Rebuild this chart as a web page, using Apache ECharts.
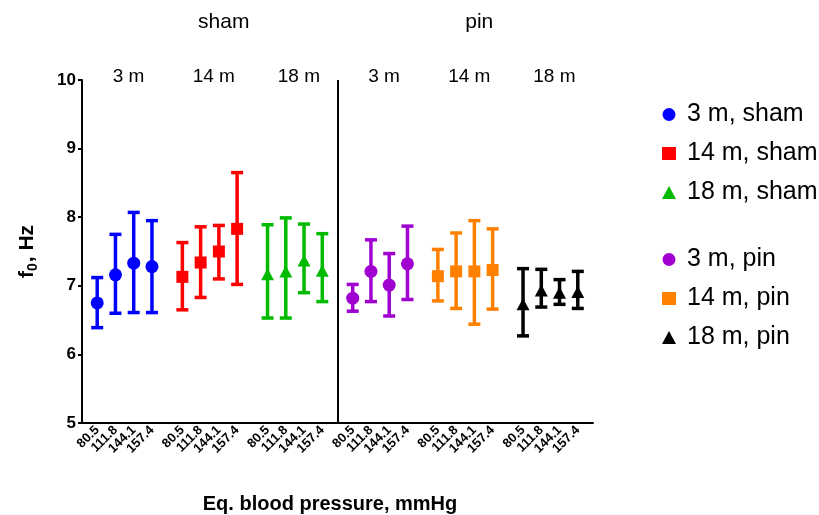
<!DOCTYPE html>
<html><head><meta charset="utf-8">
<script src="https://cdn.jsdelivr.net/npm/echarts@6/dist/echarts.min.js"></script>
<style>html,body{margin:0;padding:0;background:#fff}#c{width:819px;height:515px}</style>
</head><body><div id="c"></div>
<script>
// ---- data ----
const pressures = ['80.5', '111.8', '144.1', '157.4'];
const groupNames = ['3 m, sham', '14 m, sham', '18 m, sham', '3 m, pin', '14 m, pin', '18 m, pin'];
const groupAges = ['3 m', '14 m', '18 m', '3 m', '14 m', '18 m'];
const conditions = ['sham', 'pin'];

const mean_3m_sham  = [6.75, 7.16, 7.33, 7.28];
const low_3m_sham   = [6.39, 6.60, 6.61, 6.61];
const high_3m_sham  = [7.12, 7.75, 8.07, 7.95];

const mean_14m_sham = [7.13, 7.34, 7.50, 7.83];
const low_14m_sham  = [6.65, 6.83, 7.10, 7.02];
const high_14m_sham = [7.63, 7.86, 7.88, 8.65];

const mean_18m_sham = [7.17, 7.21, 7.37, 7.22];
const low_18m_sham  = [6.53, 6.53, 6.90, 6.77];
const high_18m_sham = [7.89, 7.99, 7.90, 7.76];

const mean_3m_pin   = [6.82, 7.21, 7.01, 7.32];
const low_3m_pin    = [6.63, 6.77, 6.56, 6.80];
const high_3m_pin   = [7.02, 7.67, 7.47, 7.87];

const mean_14m_pin  = [7.14, 7.21, 7.21, 7.23];
const low_14m_pin   = [6.78, 6.67, 6.44, 6.66];
const high_14m_pin  = [7.53, 7.77, 7.95, 7.83];

const mean_18m_pin  = [6.73, 6.93, 6.90, 6.91];
const low_18m_pin   = [6.27, 6.69, 6.73, 6.67];
const high_18m_pin  = [7.25, 7.24, 7.09, 7.21];

const yTicks = [5, 6, 7, 8, 9, 10];

// ---- layout / style ----
const means = [mean_3m_sham, mean_14m_sham, mean_18m_sham, mean_3m_pin, mean_14m_pin, mean_18m_pin];
const lows  = [low_3m_sham, low_14m_sham, low_18m_sham, low_3m_pin, low_14m_pin, low_18m_pin];
const highs = [high_3m_sham, high_14m_sham, high_18m_sham, high_3m_pin, high_14m_pin, high_18m_pin];
const colors = ['#0000FF', '#FF0000', '#00BB00', '#A000D0', '#FF8000', '#000000'];
const symbols = ['circle', 'rect', 'triangle', 'circle', 'rect', 'triangle'];
const symSizes = [13, 12, [13, 12], 13, 12, [13, 12]];

const NSLOT = 84, START = 2, GROUP_PITCH = 14, STEP = 3;
const slot = (g, i) => START + g * GROUP_PITCH + i * STEP;
const slotLabel = new Array(NSLOT).fill('');
for (let g = 0; g < groupNames.length; g++)
  for (let i = 0; i < pressures.length; i++) slotLabel[slot(g, i)] = pressures[i];
const cats = slotLabel.map((_, k) => String(k));
const isData = (idx) => slotLabel[idx] !== '';

const FONT = '"Liberation Sans", Arial, sans-serif';

function errRender(params, api) {
  const x = api.value(0), lo = api.value(1), hi = api.value(2);
  const pLo = api.coord([x, lo]), pHi = api.coord([x, hi]);
  const hw = 6;
  const style = { stroke: api.visual('color'), lineWidth: 3.5 };
  return { type: 'group', children: [
    { type: 'line', shape: { x1: pLo[0], y1: pLo[1], x2: pHi[0], y2: pHi[1] }, style },
    { type: 'line', shape: { x1: pLo[0] - hw, y1: pLo[1], x2: pLo[0] + hw, y2: pLo[1] }, style },
    { type: 'line', shape: { x1: pHi[0] - hw, y1: pHi[1], x2: pHi[0] + hw, y2: pHi[1] }, style }
  ]};
}

const series = [];
for (let g = 0; g < groupNames.length; g++) {
  series.push({
    type: 'custom', name: groupNames[g] + ' err', renderItem: errRender, silent: true,
    itemStyle: { color: colors[g] }, encode: { x: 0, y: [1, 2] }, z: 2,
    data: pressures.map((_, i) => [slot(g, i), lows[g][i], highs[g][i]])
  });
  series.push({
    type: 'scatter', name: groupNames[g], symbol: symbols[g], symbolSize: symSizes[g],
    itemStyle: { color: colors[g], opacity: 1 }, z: 3, silent: true,
    data: means[g].map((m, i) => [slot(g, i), m])
  });
}
series.push({
  type: 'line', xAxisIndex: 1, data: [], silent: true,
  markLine: { silent: true, symbol: 'none', label: { show: false },
    lineStyle: { color: '#000', width: 2, type: 'solid' }, data: [{ xAxis: 42 }] }
});

const chart = echarts.init(document.getElementById('c'), null, { renderer: 'canvas' });
const legendBase = {
  orient: 'vertical', left: 657, itemWidth: 14, itemHeight: 13, itemGap: 14, selectedMode: false,
  textStyle: { fontSize: 25, color: '#000', fontFamily: FONT, padding: [0, 0, 0, 6] }
};
chart.setOption({
  animation: false,
  backgroundColor: '#fff',
  textStyle: { fontFamily: FONT },
  grid: { left: 82, right: 226, top: 80, bottom: 92, containLabel: false },
  legend: [
    Object.assign({}, legendBase, { top: 97, data: groupNames.slice(0, 3) }),
    Object.assign({}, legendBase, { top: 242, data: groupNames.slice(3) })
  ],
  xAxis: [{
    type: 'category', data: cats, boundaryGap: true,
    axisLine: { lineStyle: { color: '#000', width: 2 } },
    axisTick: { alignWithLabel: true, interval: isData, length: 4, lineStyle: { color: '#000', width: 2 } },
    axisLabel: { interval: isData, rotate: 45, margin: 5, color: '#000', fontSize: 13, fontWeight: 'bold',
      fontFamily: FONT, formatter: (v, idx) => slotLabel[+v] },
    splitLine: { show: false }
  }, {
    type: 'value', min: 0, max: NSLOT, show: false
  }],
  yAxis: {
    type: 'value', min: yTicks[0], max: yTicks[yTicks.length - 1], interval: 1,
    axisLine: { show: true, lineStyle: { color: '#000', width: 2 } },
    axisTick: { show: true, length: 4, lineStyle: { color: '#000', width: 2 } },
    axisLabel: { color: '#000', fontSize: 17, fontWeight: 'bold', margin: 6, fontFamily: FONT },
    splitLine: { show: false },
    name: '{a|f}{b|0}{a|, Hz}', nameLocation: 'middle', nameRotate: 90, nameGap: 42,
    nameTextStyle: { color: '#000', rich: {
      a: { fontSize: 21, fontWeight: 'bold', color: '#000', fontFamily: FONT },
      b: { fontSize: 14, fontWeight: 'bold', color: '#000', fontFamily: FONT, padding: [11, 1, 0, 0] }
    } }
  },
  series
});

// text annotations placed from axis coordinates
const gfx = [];
const plotTop = chart.convertToPixel({ yAxisIndex: 0 }, yTicks[yTicks.length - 1]);
for (let g = 0; g < groupAges.length; g++) {
  const cx = (chart.convertToPixel({ xAxisIndex: 0 }, slot(g, 0)) + chart.convertToPixel({ xAxisIndex: 0 }, slot(g, 3))) / 2 + 4;
  gfx.push({ type: 'text', x: cx, y: plotTop - 3, style: { text: groupAges[g], fontSize: 19, fill: '#000',
    fontFamily: FONT, align: 'center', verticalAlign: 'middle' } });
}
for (let c = 0; c < conditions.length; c++) {
  const cx = (chart.convertToPixel({ xAxisIndex: 0 }, slot(c * 3, 0)) + chart.convertToPixel({ xAxisIndex: 0 }, slot(c * 3 + 2, 3))) / 2 + 14;
  gfx.push({ type: 'text', x: cx, y: 22, style: { text: conditions[c], fontSize: 21, fill: '#000',
    fontFamily: FONT, align: 'center', verticalAlign: 'middle' } });
}
gfx.push({ type: 'text', x: 330, y: 504, style: { text: 'Eq. blood pressure, mmHg', fontSize: 20, fontWeight: 'bold',
  fill: '#000', fontFamily: FONT, align: 'center', verticalAlign: 'middle' } });
chart.setOption({ graphic: gfx });
</script>
</body></html>
